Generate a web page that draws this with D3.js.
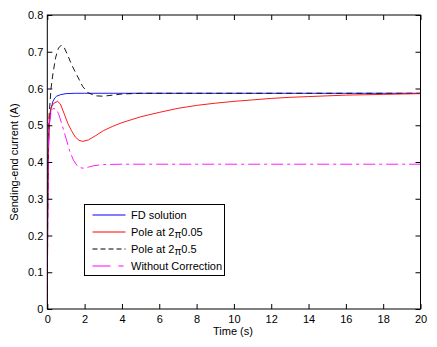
<!DOCTYPE html>
<html><head><meta charset="utf-8">
<script src="https://cdn.jsdelivr.net/npm/d3@7"></script>
<style>body{margin:0;background:#fff}svg{display:block}text{font-family:"Liberation Sans",Arial,sans-serif}</style>
</head><body>
<svg id="c" width="437" height="347"></svg>
<script>
const xTicks = [0,2,4,6,8,10,12,14,16,18,20];
const yTicks = [0,0.1,0.2,0.3,0.4,0.5,0.6,0.7,0.8];
const yTickLabels = ["0","0.1","0.2","0.3","0.4","0.5","0.6","0.7","0.8"];

const fdT = [0,0.02,0.05,0.1,0.2,0.3,0.4,0.5,0.7,1.0,1.5,2,4,8,12,16,20];
const fdV = [0,0.25,0.4,0.5,0.545,0.565,0.574,0.579,0.583,0.586,0.587,0.587,0.587,0.587,0.587,0.587,0.587];

const p05T = [0,0.02,0.05,0.1,0.2,0.3,0.45,0.6,0.75,0.9,1.1,1.3,1.6,1.9,2.2,2.6,3.0,3.5,4,5,20];
const p05V = [0,0.25,0.42,0.53,0.6,0.64,0.685,0.71,0.718,0.712,0.69,0.665,0.635,0.605,0.588,0.580,0.579,0.582,0.585,0.587,0.587];

const p005T = [0,0.02,0.05,0.1,0.2,0.35,0.55,0.7,0.9,1.1,1.3,1.5,1.7,1.9,2.2,2.6,3,3.5,4,5,6,7,8,9,10,11,12,13,14,15,16,17,18,19,20];
const p005V = [0,0.25,0.42,0.52,0.548,0.56,0.565,0.558,0.532,0.505,0.485,0.468,0.459,0.456,0.46,0.472,0.485,0.497,0.507,0.523,0.535,0.546,0.554,0.56,0.565,0.569,0.573,0.576,0.578,0.58,0.582,0.583,0.584,0.585,0.586];

const woT = [0,0.02,0.05,0.1,0.2,0.3,0.45,0.6,0.8,1.0,1.2,1.4,1.6,1.8,2.0,2.2,2.5,3,4,20];
const woV = [0,0.25,0.42,0.5,0.535,0.545,0.545,0.532,0.5,0.465,0.43,0.405,0.39,0.384,0.383,0.386,0.39,0.393,0.394,0.394];

const seriesNames = ["FD solution","Pole at 2\u03C00.05","Pole at 2\u03C00.5","Without Correction"];

const svg = d3.select("#c");
const L=47.3, R=420.5, T=15, B=309;
const x = d3.scaleLinear().domain([0,20]).range([L,R]);
const y = d3.scaleLinear().domain([0,0.8]).range([B,T]);

const g = svg.append("g");
const line = d3.line().x(d=>x(d[0])).y(d=>y(d[1]));
const zip = (a,b)=>a.map((t,i)=>[t,b[i]]);

const series = [
  {d:zip(fdT,fdV), c:"#0000ff", dash:null},
  {d:zip(p005T,p005V), c:"#ff0000", dash:null},
  {d:zip(p05T,p05V), c:"#000000", dash:"6,4"},
  {d:zip(woT,woV), c:"#ff00ff", dash:"12,4,3,4"}
];
g.append("defs").append("clipPath").attr("id","clip").append("rect")
  .attr("x",L).attr("y",T).attr("width",R-L).attr("height",B-T);
const drawOrder=[0,2,1,3];
drawOrder.forEach(i=>{
  const s=series[i];
  g.append("path").attr("d",line(s.d)).attr("fill","none").attr("stroke",s.c)
   .attr("stroke-width",0.9).attr("stroke-dasharray",s.dash).attr("clip-path","url(#clip)");
});

// box
g.append("rect").attr("x",L).attr("y",T).attr("width",R-L).attr("height",B-T)
  .attr("fill","none").attr("stroke","#000").attr("stroke-width",1);

// axes with inward ticks
const xb = g.append("g").attr("transform",`translate(0,${B})`)
  .call(d3.axisBottom(x).tickValues(xTicks).tickSize(-5).tickPadding(6).tickFormat(d3.format("d")));
const xt = g.append("g").attr("transform",`translate(0,${T})`)
  .call(d3.axisTop(x).tickValues(xTicks).tickSize(-5).tickFormat(""));
const yl = g.append("g").attr("transform",`translate(${L},0)`)
  .call(d3.axisLeft(y).tickValues(yTicks).tickSize(-5).tickPadding(4).tickFormat((d,i)=>yTickLabels[i]));
const yr = g.append("g").attr("transform",`translate(${R},0)`)
  .call(d3.axisRight(y).tickValues(yTicks).tickSize(-5).tickFormat(""));
[xb,xt,yl,yr].forEach(a=>{a.select(".domain").remove();a.selectAll("line").attr("stroke","#000");
  a.selectAll("text").attr("font-size",11).attr("fill","#000").style("font-family","'Liberation Sans',Arial,sans-serif");});

svg.append("text").attr("x",233).attr("y",335).attr("text-anchor","middle").attr("font-size",11).text("Time (s)");
svg.append("text").attr("transform","translate(18,162) rotate(-90)").attr("text-anchor","middle").attr("font-size",11).text("Sending-end current (A)");

// legend
const lg = svg.append("g");
lg.append("rect").attr("x",84.5).attr("y",204.5).attr("width",140).attr("height",71).attr("fill","#fff").attr("stroke","#000").attr("stroke-width",1);
const ly=[215,232,249,266];
series.forEach((s,i)=>{
  lg.append("line").attr("x1",92.5).attr("x2",125.5).attr("y1",ly[i]).attr("y2",ly[i])
    .attr("stroke",s.c).attr("stroke-width",1).attr("stroke-dasharray",i===2?"5,3":(i===3?"18,8,5,4":null));
  const t = lg.append("text").attr("x",131).attr("y",ly[i]+4).attr("font-size",11);
  const nm = seriesNames[i];
  const pi = nm.indexOf("\u03C0");
  if(pi<0){t.text(nm);}
  else{
    t.append("tspan").text(nm.slice(0,pi));
    t.append("tspan").attr("dy",2).attr("font-size",10).text("\u03C0");
    t.append("tspan").attr("dy",-2).text(nm.slice(pi+1));
  }
});
</script>
</body></html>
